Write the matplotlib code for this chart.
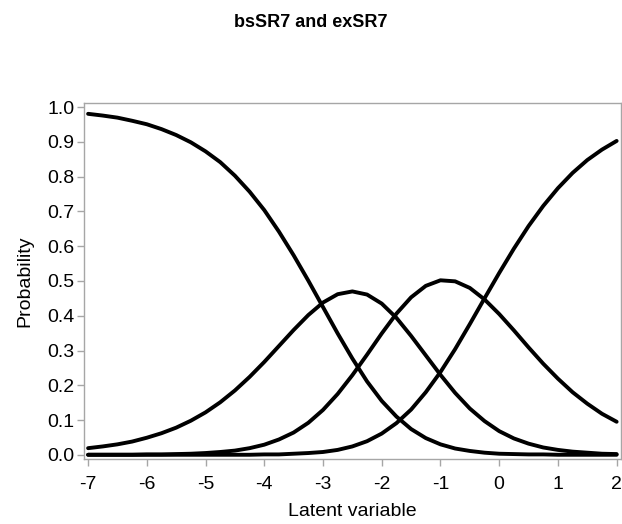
#!/usr/bin/env python3
"""Category response curves for bsSR7 and exSR7."""
import matplotlib
matplotlib.use("Agg")
import matplotlib.pyplot as plt

plt.rcParams["font.family"] = ["Liberation Sans", "DejaVu Sans"]

# Latent variable grid
theta = [-7.0, -6.75, -6.5, -6.25, -6.0, -5.75, -5.5, -5.25, -5.0, -4.75,
         -4.5, -4.25, -4.0, -3.75, -3.5, -3.25, -3.0, -2.75, -2.5, -2.25,
         -2.0, -1.75, -1.5, -1.25, -1.0, -0.75, -0.5, -0.25, 0.0, 0.25,
         0.5, 0.75, 1.0, 1.25, 1.5, 1.75, 2.0]

# category 0 (falling)
cat0 = [0.981, 0.976, 0.970, 0.961, 0.951, 0.937, 0.920, 0.899, 0.873, 0.842,
        0.803, 0.757, 0.704, 0.642, 0.574, 0.501, 0.425, 0.349, 0.277, 0.211,
        0.155, 0.110, 0.074, 0.048, 0.030, 0.018, 0.011, 0.006, 0.003, 0.002,
        0.001, 0.001, 0.000, 0.000, 0.000, 0.000, 0.000]

# category 1 (peak near -2.5)
cat1 = [0.019, 0.024, 0.030, 0.038, 0.049, 0.062, 0.078, 0.098, 0.122, 0.151,
        0.185, 0.224, 0.267, 0.313, 0.359, 0.402, 0.438, 0.462, 0.470, 0.461,
        0.435, 0.394, 0.342, 0.286, 0.230, 0.178, 0.133, 0.097, 0.068, 0.047,
        0.032, 0.021, 0.014, 0.009, 0.006, 0.003, 0.002]

# category 2 (peak near -0.9)
cat2 = [0.000, 0.000, 0.000, 0.000, 0.001, 0.001, 0.002, 0.003, 0.005, 0.008,
        0.012, 0.019, 0.029, 0.044, 0.064, 0.092, 0.129, 0.175, 0.229, 0.288,
        0.349, 0.406, 0.453, 0.486, 0.502, 0.499, 0.480, 0.447, 0.405, 0.358,
        0.309, 0.262, 0.219, 0.180, 0.147, 0.118, 0.095]

# category 3 (rising)
cat3 = [0.000, 0.000, 0.000, 0.000, 0.000, 0.000, 0.000, 0.000, 0.000, 0.000,
        0.000, 0.000, 0.001, 0.001, 0.003, 0.005, 0.008, 0.014, 0.024, 0.039,
        0.061, 0.091, 0.130, 0.180, 0.238, 0.304, 0.376, 0.450, 0.523, 0.593,
        0.658, 0.716, 0.767, 0.811, 0.848, 0.878, 0.903]

x_ticks = [-7, -6, -5, -4, -3, -2, -1, 0, 1, 2]
y_ticks = [0.0, 0.1, 0.2, 0.3, 0.4, 0.5, 0.6, 0.7, 0.8, 0.9, 1.0]

fig = plt.figure(figsize=(6.22, 5.24), dpi=100)
ax = fig.add_axes([0.135, 0.1235, 0.863, 0.6805])

for series in (cat0, cat1, cat2, cat3):
    ax.plot(theta, series, color="black", linewidth=2.8, solid_capstyle="round")

ax.set_xlim(-7.07, 2.07)
ax.set_ylim(-0.013, 1.013)
ax.set_xticks(x_ticks)
ax.set_xticklabels([str(t) for t in x_ticks])
ax.set_yticks(y_ticks)
ax.set_yticklabels([f"{t:.1f}" for t in y_ticks])

frame_color = "#a6a6a6"
for spine in ax.spines.values():
    spine.set_color(frame_color)
    spine.set_linewidth(1.0)
ax.tick_params(axis="both", direction="out", length=5, width=1,
               color=frame_color, labelsize=14, labelcolor="black")
ax.tick_params(axis="x", pad=7)
ax.tick_params(axis="y", pad=2)

ax.set_xlabel("Latent variable", fontsize=14, labelpad=7)
ax.set_ylabel("Probability", fontsize=14, labelpad=10)

fig.text(0.5, 0.957, "bsSR7 and exSR7", ha="center", va="center",
         fontsize=13, fontweight="bold")

fig.savefig("out.png", dpi=100, facecolor="white")
plt.close(fig)
